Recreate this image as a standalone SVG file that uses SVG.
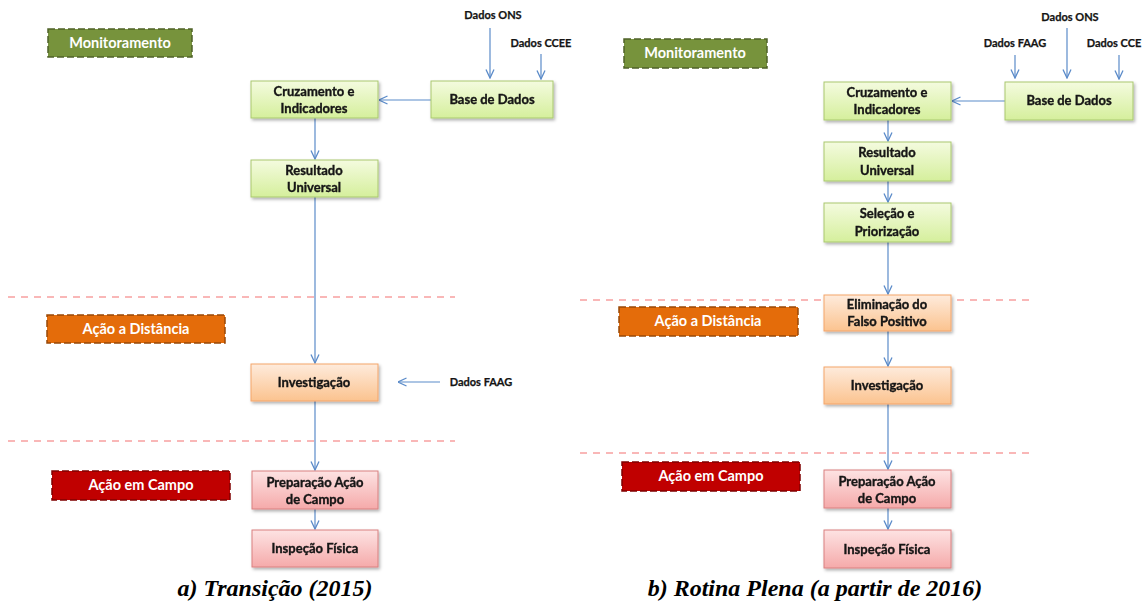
<svg xmlns="http://www.w3.org/2000/svg" width="1142" height="601" viewBox="0 0 1142 601">
<style>
.nt{font-family:Lato,"Liberation Sans",sans-serif;font-weight:bold;font-size:13px;fill:#141414;stroke:#141414;stroke-width:0.35;text-anchor:middle}
.lt{font-family:Lato,"Liberation Sans",sans-serif;font-weight:bold;font-size:14.5px;fill:#fff;text-anchor:middle}
.dt{font-family:Lato,"Liberation Sans",sans-serif;font-weight:bold;font-size:11px;fill:#141414;stroke:#141414;stroke-width:0.25;text-anchor:middle}
.cap{font-family:"Liberation Serif",serif;font-weight:bold;font-style:italic;font-size:24px;fill:#000;text-anchor:middle}
.g{fill:url(#gg);stroke:#A9C86E;stroke-width:1}
.o{fill:url(#go);stroke:#F3A56B;stroke-width:1}
.r{fill:url(#gr);stroke:#D98080;stroke-width:1}
.sep{stroke:#F7A0A0;stroke-width:1.5;stroke-dasharray:7,6;fill:none}
.c{stroke:#5B8BC9;stroke-width:1.2;fill:none}
.lm{fill:#77933C;stroke:#4F6228;stroke-width:1.5;stroke-dasharray:7,3}
.la{fill:#E46C0A;stroke:#984807;stroke-width:1.5;stroke-dasharray:7,3}
.lc{fill:#C00000;stroke:#7F0000;stroke-width:1.5;stroke-dasharray:7,3}
</style>
<defs>
<linearGradient id="gg" x1="0" y1="0" x2="0" y2="1"><stop offset="0" stop-color="#F4FBDF"/><stop offset="1" stop-color="#D5EF9C"/></linearGradient>
<linearGradient id="go" x1="0" y1="0" x2="0" y2="1"><stop offset="0" stop-color="#FEEBDC"/><stop offset="1" stop-color="#FBC38F"/></linearGradient>
<linearGradient id="gr" x1="0" y1="0" x2="0" y2="1"><stop offset="0" stop-color="#FDE3E3"/><stop offset="1" stop-color="#F5AAAA"/></linearGradient>
<filter id="sh" x="-10%" y="-20%" width="125%" height="150%"><feDropShadow dx="1.5" dy="2" stdDeviation="1.5" flood-color="#000" flood-opacity="0.3"/></filter>
<marker id="ah" viewBox="0 0 10 10" refX="9.5" refY="5" markerWidth="10" markerHeight="10" markerUnits="userSpaceOnUse" orient="auto"><path d="M1,1 L9.5,5 L1,9" fill="none" stroke="#5B8BC9" stroke-width="1.3"/></marker>
</defs>
<rect width="1142" height="601" fill="#fff"/>

<g id="separators">
<line class="sep" x1="8" y1="297" x2="455" y2="297"/>
<line class="sep" x1="8" y1="441" x2="455" y2="441"/>
<line class="sep" x1="580" y1="300" x2="1030" y2="300"/>
<line class="sep" x1="580" y1="453" x2="1030" y2="453"/>
</g>

<g id="connectors">
<line class="c" x1="490" y1="28" x2="490" y2="78" marker-end="url(#ah)"/>
<line class="c" x1="541" y1="54" x2="541" y2="79" marker-end="url(#ah)"/>
<line class="c" x1="431" y1="100" x2="379" y2="100" marker-end="url(#ah)"/>
<line class="c" x1="315" y1="118" x2="315" y2="159" marker-end="url(#ah)"/>
<line class="c" x1="315" y1="197" x2="315" y2="363" marker-end="url(#ah)"/>
<line class="c" x1="440" y1="382" x2="398" y2="382" marker-end="url(#ah)"/>
<line class="c" x1="315" y1="401" x2="315" y2="470" marker-end="url(#ah)"/>
<line class="c" x1="315" y1="509" x2="315" y2="529" marker-end="url(#ah)"/>

<line class="c" x1="1067" y1="28" x2="1067" y2="78" marker-end="url(#ah)"/>
<line class="c" x1="1015" y1="55" x2="1015" y2="78" marker-end="url(#ah)"/>
<line class="c" x1="1119" y1="55" x2="1119" y2="79" marker-end="url(#ah)"/>
<line class="c" x1="1005" y1="101" x2="952" y2="101" marker-end="url(#ah)"/>
<line class="c" x1="888" y1="120" x2="888" y2="141" marker-end="url(#ah)"/>
<line class="c" x1="888" y1="181" x2="888" y2="202" marker-end="url(#ah)"/>
<line class="c" x1="888" y1="242" x2="888" y2="294" marker-end="url(#ah)"/>
<line class="c" x1="888" y1="331" x2="888" y2="366" marker-end="url(#ah)"/>
<line class="c" x1="888" y1="404" x2="888" y2="469" marker-end="url(#ah)"/>
<line class="c" x1="888" y1="508" x2="888" y2="529" marker-end="url(#ah)"/>
</g>

<g id="a-monitoramento"><rect class="lm" x="48" y="29" width="144" height="28"/><text class="lt" x="120" y="48">Monitoramento</text></g>
<g id="a-acao-distancia"><rect class="la" x="47" y="315" width="178" height="28"/><text class="lt" x="136" y="334">Ação a Distância</text></g>
<g id="a-acao-campo"><rect class="lc" x="52" y="471" width="178" height="29"/><text class="lt" x="141" y="490">Ação em Campo</text></g>

<g id="a-dados-ons"><text class="dt" x="493" y="19">Dados ONS</text></g>
<g id="a-dados-ccee"><text class="dt" x="541" y="47">Dados CCEE</text></g>
<g id="a-dados-faag"><text class="dt" x="481" y="386">Dados FAAG</text></g>

<g id="a-base" filter="url(#sh)"><rect class="g" x="431" y="81" width="122" height="37"/><text class="nt" x="492" y="104">Base de Dados</text></g>
<g id="a-cruzamento" filter="url(#sh)"><rect class="g" x="251" y="81" width="127" height="37"/><text class="nt" x="314" y="96">Cruzamento e</text><text class="nt" x="314" y="113">Indicadores</text></g>
<g id="a-resultado" filter="url(#sh)"><rect class="g" x="251" y="160" width="127" height="37"/><text class="nt" x="314" y="175">Resultado</text><text class="nt" x="314" y="192">Universal</text></g>
<g id="a-investigacao" filter="url(#sh)"><rect class="o" x="251" y="364" width="127" height="37"/><text class="nt" x="314" y="387">Investigação</text></g>
<g id="a-preparacao" filter="url(#sh)"><rect class="r" x="252" y="471" width="126" height="38"/><text class="nt" x="315" y="487">Preparação Ação</text><text class="nt" x="315" y="504">de Campo</text></g>
<g id="a-inspecao" filter="url(#sh)"><rect class="r" x="252" y="530" width="126" height="37"/><text class="nt" x="315" y="553">Inspeção Física</text></g>

<g id="b-monitoramento"><rect class="lm" x="624" y="39" width="143" height="29"/><text class="lt" x="695" y="58">Monitoramento</text></g>
<g id="b-acao-distancia"><rect class="la" x="619" y="307" width="179" height="29"/><text class="lt" x="708" y="326">Ação a Distância</text></g>
<g id="b-acao-campo"><rect class="lc" x="622" y="462" width="178" height="29"/><text class="lt" x="711" y="481">Ação em Campo</text></g>

<g id="b-dados-ons"><text class="dt" x="1070" y="21">Dados ONS</text></g>
<g id="b-dados-faag"><text class="dt" x="1015" y="47">Dados FAAG</text></g>
<g id="b-dados-ccee"><text class="dt" x="1114" y="47">Dados CCE</text></g>

<g id="b-base" filter="url(#sh)"><rect class="g" x="1005" y="82" width="128" height="38"/><text class="nt" x="1069" y="105">Base de Dados</text></g>
<g id="b-cruzamento" filter="url(#sh)"><rect class="g" x="824" y="82" width="127" height="38"/><text class="nt" x="887" y="97">Cruzamento e</text><text class="nt" x="887" y="114">Indicadores</text></g>
<g id="b-resultado" filter="url(#sh)"><rect class="g" x="824" y="142" width="127" height="39"/><text class="nt" x="887" y="157">Resultado</text><text class="nt" x="887" y="175">Universal</text></g>
<g id="b-selecao" filter="url(#sh)"><rect class="g" x="824" y="203" width="127" height="39"/><text class="nt" x="887" y="218">Seleção e</text><text class="nt" x="887" y="236">Priorização</text></g>
<g id="b-eliminacao" filter="url(#sh)"><rect class="o" x="824" y="295" width="127" height="36"/><text class="nt" x="887" y="309">Eliminação do</text><text class="nt" x="887" y="326">Falso Positivo</text></g>
<g id="b-investigacao" filter="url(#sh)"><rect class="o" x="824" y="367" width="127" height="37"/><text class="nt" x="887" y="390">Investigação</text></g>
<g id="b-preparacao" filter="url(#sh)"><rect class="r" x="824" y="470" width="127" height="38"/><text class="nt" x="887" y="486">Preparação Ação</text><text class="nt" x="887" y="503">de Campo</text></g>
<g id="b-inspecao" filter="url(#sh)"><rect class="r" x="824" y="530" width="127" height="38"/><text class="nt" x="887" y="554">Inspeção Física</text></g>

<g id="captions">
<text class="cap" x="275" y="596">a) Transição (2015)</text>
<text class="cap" x="815" y="596">b) Rotina Plena (a partir de 2016)</text>
</g>
</svg>
